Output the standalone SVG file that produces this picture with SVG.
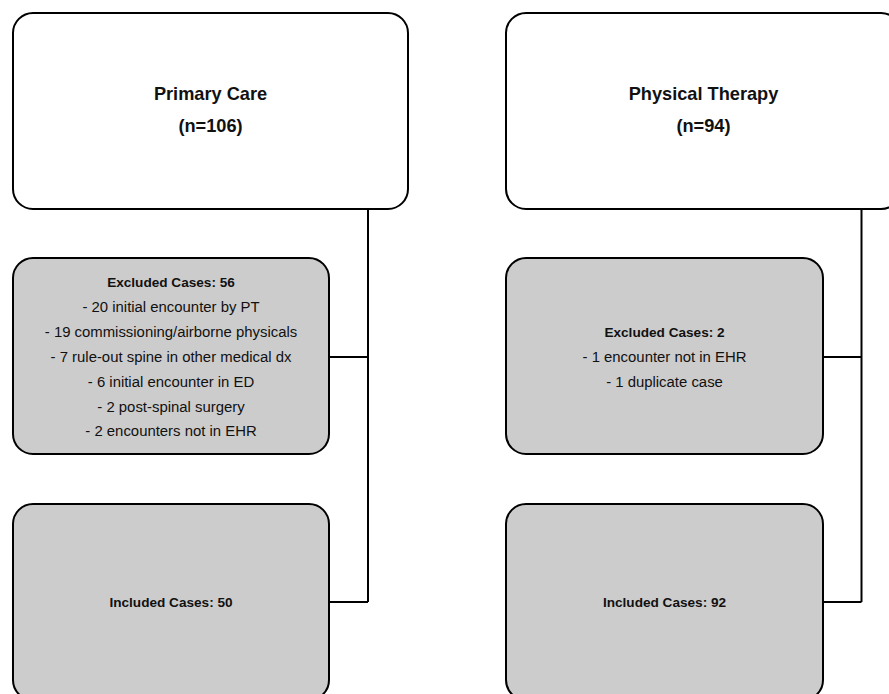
<svg xmlns="http://www.w3.org/2000/svg" width="889" height="694" viewBox="0 0 889 694">
  <style>
    .top { fill: #ffffff; stroke: #000000; stroke-width: 2; }
    .grey { fill: #cccccc; stroke: #000000; stroke-width: 2; }
    .title { font-family: "Liberation Sans", Arial, sans-serif; font-weight: bold; font-size: 18.2px; fill: #111111; text-anchor: middle; }
    .head { font-family: "Liberation Sans", Arial, sans-serif; font-weight: bold; font-size: 13.6px; fill: #111111; text-anchor: middle; }
    .body { font-family: "Liberation Sans", Arial, sans-serif; font-size: 14.9px; fill: #111111; text-anchor: middle; }
    .conn { fill: none; stroke: #000000; stroke-width: 2; }
  </style>
  <rect width="889" height="694" fill="#ffffff"/>

  <g id="connectors">
    <path class="conn" d="M368 209 V602 M329 357 H368 M329 602 H368"/>
    <path class="conn" d="M861.5 209 V602 M823 357 H861.5 M823 602 H861.5"/>
  </g>

  <g id="primary-care">
    <rect class="top" x="13" y="13" width="395" height="196" rx="20" ry="20"/>
    <text class="title" x="210.5" y="100">Primary Care</text>
    <text class="title" x="210.5" y="132">(n=106)</text>
  </g>

  <g id="physical-therapy">
    <rect class="top" x="506" y="13" width="395" height="196" rx="20" ry="20"/>
    <text class="title" x="703.5" y="100">Physical Therapy</text>
    <text class="title" x="703.5" y="132">(n=94)</text>
  </g>

  <g id="excluded-pc">
    <rect class="grey" x="13" y="258" width="316" height="196" rx="20" ry="20"/>
    <text class="head" x="171" y="286.5">Excluded Cases: 56</text>
    <text class="body" x="171" y="311.5">- 20 initial encounter by PT</text>
    <text class="body" x="171" y="336.5">- 19 commissioning/airborne physicals</text>
    <text class="body" x="171" y="361.5">- 7 rule-out spine in other medical dx</text>
    <text class="body" x="171" y="386.5">- 6 initial encounter in ED</text>
    <text class="body" x="171" y="411.5">- 2 post-spinal surgery</text>
    <text class="body" x="171" y="436">- 2 encounters not in EHR</text>
  </g>

  <g id="excluded-pt">
    <rect class="grey" x="506" y="258" width="317" height="196" rx="20" ry="20"/>
    <text class="head" x="664.5" y="337.3">Excluded Cases: 2</text>
    <text class="body" x="664.5" y="362.3">- 1 encounter not in EHR</text>
    <text class="body" x="664.5" y="386.7">- 1 duplicate case</text>
  </g>

  <g id="included-pc">
    <rect class="grey" x="13" y="504" width="316" height="196" rx="20" ry="20"/>
    <text class="head" x="171" y="606.7">Included Cases: 50</text>
  </g>

  <g id="included-pt">
    <rect class="grey" x="506" y="504" width="317" height="196" rx="20" ry="20"/>
    <text class="head" x="664.5" y="606.7">Included Cases: 92</text>
  </g>
</svg>
